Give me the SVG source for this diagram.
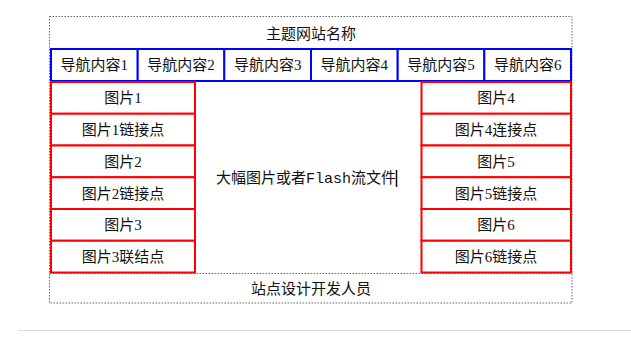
<svg xmlns="http://www.w3.org/2000/svg" width="631" height="348" viewBox="0 0 631 348">
<style>
text{font-family:"Liberation Serif","Noto Sans CJK SC",serif;font-size:15px;fill:#111;text-anchor:middle}
.mono{font-family:"Liberation Mono","Noto Sans CJK SC",monospace}
.dot{fill:none;stroke:#666;stroke-width:1;stroke-dasharray:1.5 1.5}
.nav{fill:#fff;stroke:#0000ff;stroke-width:2}
.pic{fill:#fff;stroke:#ff0000;stroke-width:2}
</style>
<rect width="631" height="348" fill="#fff"/>
<line x1="18" y1="330.5" x2="631" y2="330.5" stroke="#dddddd" stroke-width="1"/>
<g id="frame">
<rect class="dot" x="49.5" y="16.5" width="522.5" height="286.5"/>
<line class="dot" x1="49.5" y1="273.5" x2="572" y2="273.5"/>
</g>
<g id="title"><text x="311" y="39">主题网站名称</text></g>
<g id="nav">
<g id="nav1"><rect class="nav" x="51" y="49" width="86.7" height="32"/><text x="94.3" y="70">导航内容1</text></g>
<g id="nav2"><rect class="nav" x="137.7" y="49" width="86.7" height="32"/><text x="181" y="70">导航内容2</text></g>
<g id="nav3"><rect class="nav" x="224.3" y="49" width="86.7" height="32"/><text x="267.7" y="70">导航内容3</text></g>
<g id="nav4"><rect class="nav" x="311" y="49" width="86.7" height="32"/><text x="354.3" y="70">导航内容4</text></g>
<g id="nav5"><rect class="nav" x="397.7" y="49" width="86.7" height="32"/><text x="441" y="70">导航内容5</text></g>
<g id="nav6"><rect class="nav" x="484.3" y="49" width="86.7" height="32"/><text x="527.7" y="70">导航内容6</text></g>
</g>
<g id="left">
<g id="p1"><rect class="pic" x="51" y="82" width="144" height="31.75"/><text x="123" y="103">图片1</text></g>
<g id="p1l"><rect class="pic" x="51" y="113.75" width="144" height="31.75"/><text x="123" y="135">图片1链接点</text></g>
<g id="p2"><rect class="pic" x="51" y="145.5" width="144" height="31.75"/><text x="123" y="166.5">图片2</text></g>
<g id="p2l"><rect class="pic" x="51" y="177.25" width="144" height="31.75"/><text x="123" y="198.5">图片2链接点</text></g>
<g id="p3"><rect class="pic" x="51" y="209" width="144" height="31.75"/><text x="123" y="230">图片3</text></g>
<g id="p3l"><rect class="pic" x="51" y="240.75" width="144" height="31.75"/><text x="123" y="262">图片3联结点</text></g>
</g>
<g id="center">
<text x="306" y="183">大幅图片或者<tspan class="mono">Flash</tspan>流文件</text>
<line x1="396.5" y1="170" x2="396.5" y2="187" stroke="#111" stroke-width="1.5"/>
</g>
<g id="right">
<g id="p4"><rect class="pic" x="421.5" y="82" width="149.5" height="31.75"/><text x="496" y="103">图片4</text></g>
<g id="p4l"><rect class="pic" x="421.5" y="113.75" width="149.5" height="31.75"/><text x="496" y="135">图片4连接点</text></g>
<g id="p5"><rect class="pic" x="421.5" y="145.5" width="149.5" height="31.75"/><text x="496" y="166.5">图片5</text></g>
<g id="p5l"><rect class="pic" x="421.5" y="177.25" width="149.5" height="31.75"/><text x="496" y="198.5">图片5链接点</text></g>
<g id="p6"><rect class="pic" x="421.5" y="209" width="149.5" height="31.75"/><text x="496" y="230">图片6</text></g>
<g id="p6l"><rect class="pic" x="421.5" y="240.75" width="149.5" height="31.75"/><text x="496" y="262">图片6链接点</text></g>
</g>
<g id="footer"><text x="311" y="294">站点设计开发人员</text></g>
<g id="connectors"></g>
</svg>
